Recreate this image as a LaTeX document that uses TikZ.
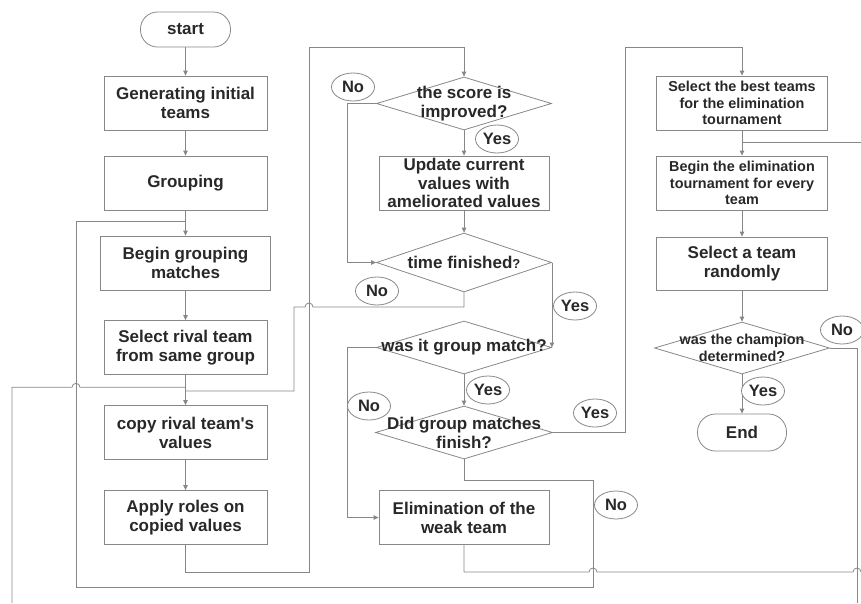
\documentclass[tikz,border=0pt]{standalone}
\usepackage{fontspec}
\setmainfont{Liberation Sans}[Ligatures=TeXOff]
\usetikzlibrary{arrows.meta,shapes.geometric}
\definecolor{lc}{RGB}{135,135,135}
\definecolor{tc}{RGB}{40,40,40}
\begin{document}
\begin{tikzpicture}[x=1pt,y=-1pt,
  line width=0.8pt,
  big/.style={font=\bfseries\fontsize{17}{19}\selectfont},
  small/.style={font=\bfseries\fontsize{14.4}{16.7}\selectfont},
  box/.style={draw=lc, rectangle, minimum width=163pt, minimum height=54pt, inner sep=0pt, align=center, text=tc, big},
  term/.style={draw=lc, rectangle, rounded corners=17pt, minimum width=90pt, minimum height=35pt, inner sep=0pt, text=tc, big},
  dia/.style={draw=lc, diamond, minimum width=175pt, minimum height=53pt, inner sep=0pt},
  dtext/.style={align=center, inner sep=0pt, text=tc, big},
  lab/.style={draw=lc, ellipse, fill=white, minimum width=43pt, minimum height=28pt, inner sep=0pt, text=tc, font=\bfseries\fontsize{16.5}{18}\selectfont},
  conn/.style={draw=lc},
  arr/.style={draw=lc, -{Triangle[length=5pt,width=4.5pt]}},
]
\useasboundingbox (0,0) rectangle (861,603);

% column 1
\node[term] (start) at (185.5,29.5) {start};
\node[box] (gen) at (185.5,103) {Generating initial\\teams};
\node[box] (grp) at (185.5,183) {Grouping};
\node[box, minimum width=170pt] (bgm) at (185.5,263) {Begin grouping\\matches};
\node[box] (sel) at (185.5,347.5) {Select rival team\\from same group};
\node[box] (copy) at (185.5,432.5) {copy rival team's\\values};
\node[box] (apply) at (185.5,517.5) {Apply roles on\\copied values};

% column 2
\node[dia] (d1) at (464,103.5) {};
\node[dtext] (d1t) at (d1) {the score is\\improved?};
\node[box, minimum width=170pt, font=\bfseries\fontsize{17}{18.5}\selectfont] (upd) at (464,183) {Update current\\values with\\ameliorated values};
\node[dia, minimum height=59pt] (d2) at (464,262.5) {};
\node[dtext] (d2t) at (d2) {time finished{\fontsize{13}{13}\selectfont ?}};
\node[dia] (d3) at (464,347.5) {};
\node[dtext] (d3t) at (d3) {was it group match?};
\node[dia, minimum width=177pt] (d4) at (464,432.5) {};
\node[dtext] (d4t) at (d4) {Did group matches\\finish?};
\node[box, minimum width=170pt] (elim) at (464,517.5) {Elimination of the\\weak team};

% column 3
\node[box, small, minimum width=171pt] (best) at (742,103) {Select the best teams\\for the elimination\\tournament};
\node[box, small, minimum width=171pt] (begel) at (742,183) {Begin the elimination\\tournament for every\\team};
\node[box, minimum width=171pt, minimum height=53pt] (rand) at (742,263.5) {Select a team\\randomly};
\node[dia, minimum height=52pt] (d5) at (742,348) {};
\node[dtext, small] (d5t) at (d5) {was the champion\\determined?};
\node[term, minimum width=89pt, minimum height=37pt, rounded corners=18pt] (end) at (742,432.5) {End};

% junctions and free ends
\coordinate (j1) at (185.5,221);
\coordinate (j2l) at (185.5,387.3);
\coordinate (j2r) at (185.5,391);
\coordinate (j3) at (742,142);
\coordinate (eR) at (861,572);
\coordinate (eR2) at (861,142);
\coordinate (eB1) at (857,603);
\coordinate (eB2) at (12,603);

% connectors column 1
\draw[arr] (start) -- (gen);
\draw[arr] (gen) -- (grp);
\draw[arr] (grp) -- (bgm);
\draw[arr] (bgm) -- (sel);
\draw[arr] (sel) -- (copy);
\draw[arr] (copy) -- (apply);
\draw[conn] (d4.south) -- (464,480) -- (593,480) -- (593,587) -- (76,587) -- (76,221) -- (j1);
\draw[arr] (apply.south) -- (185.5,572) -- (309,572) -- (309,47) -- (464,47) -- (d1.north);

% column 2
\draw[arr] (d1.west) -- (347,103.5) -- (347,262.5) -- (d2.west);
\draw[arr] (d1) -- (upd);
\draw[arr] (upd) -- (d2);
\draw[conn] (d2.south) -- (464,307) -- (313,307) arc[start angle=0,end angle=180,radius=4pt] -- (294,307) -- (294,391) -- (j2r);
\draw[arr] (d2.east) -- (d2.east |- d3.east);
\draw[arr] (d3.west) -- (347,347.5) -- (347,517.5) -- (elim.west);
\draw[arr] (d3) -- (d4);
\draw[arr] (d4.east) -- (625,432.5) -- (625,47) -- (742,47) -- (best.north);
\draw[conn] (elim.south) -- (464,572) -- (589,572) arc[start angle=180,end angle=0,radius=4pt] -- (853,572) arc[start angle=180,end angle=0,radius=4pt] -- (eR);

% column 3
\draw[conn] (eR2) -- (j3);
\draw[arr] (best) -- (begel);
\draw[arr] (begel) -- (rand);
\draw[arr] (rand) -- (d5);
\draw[arr] (d5) -- (end);
\draw[conn] (d5.east) -- (857,348) -- (eB1);
\draw[conn] (eB2) -- (12,387.3) -- (72,387.3) arc[start angle=180,end angle=0,radius=4pt] -- (j2l);

% labels
\node[lab] (n1) at (353,87) {No};
\node[lab] (y1) at (497,139) {Yes};
\node[lab] (n2) at (377,291) {No};
\node[lab] (y2) at (575,306) {Yes};
\node[lab] (y3) at (488,390) {Yes};
\node[lab] (n3) at (369,406) {No};
\node[lab] (y4) at (595,413) {Yes};
\node[lab] (n4) at (616,505) {No};
\node[lab] (n5) at (842,330) {No};
\node[lab] (y5) at (763,391) {Yes};
\end{tikzpicture}
\end{document}
